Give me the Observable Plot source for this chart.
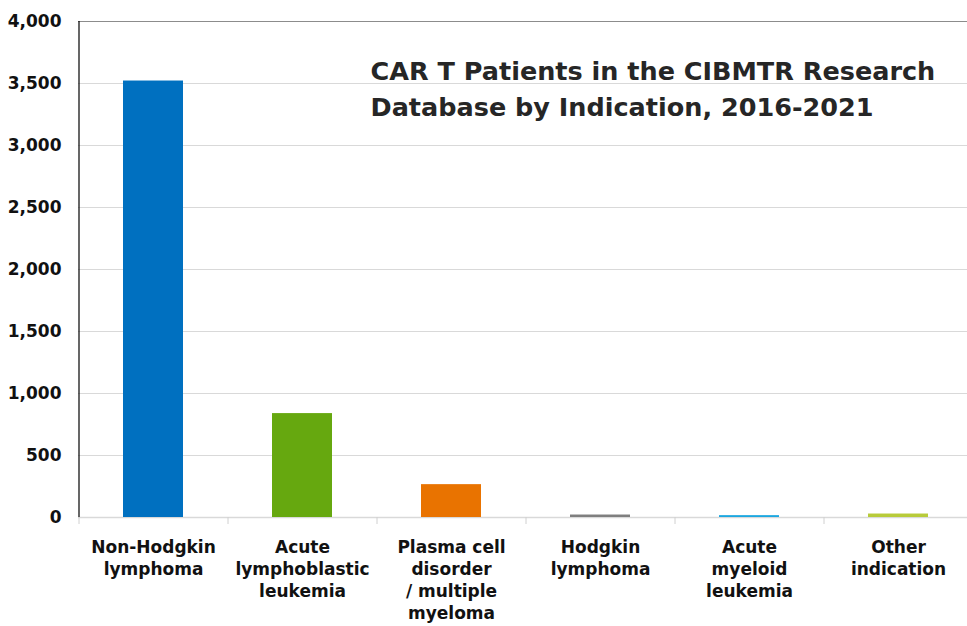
<!DOCTYPE html>
<html>
<head>
<meta charset="utf-8">
<script src="https://cdn.jsdelivr.net/npm/d3@7"></script>
<script src="https://cdn.jsdelivr.net/npm/@observablehq/plot@0.6"></script>
<style>
  html, body { margin: 0; padding: 0; background: #fff; }
  #chart svg { display: block; }
</style>
</head>
<body>
<div id="chart"></div>
<script>
const categories = ["Non-Hodgkin lymphoma", "Acute lymphoblastic leukemia", "Plasma cell disorder / multiple myeloma", "Hodgkin lymphoma", "Acute myeloid leukemia", "Other indication"];
const tickLabels = ["Non-Hodgkin\nlymphoma", "Acute\nlymphoblastic\nleukemia", "Plasma cell\ndisorder\n/ multiple\nmyeloma", "Hodgkin\nlymphoma", "Acute\nmyeloid\nleukemia", "Other\nindication"];
const patients = [3520, 838, 265, 20, 15, 28];
const colors = ["#0070C0", "#66A80F", "#E97300", "#7F7F7F", "#1CA7E0", "#B8CB3A"];
const yTicks = [0, 500, 1000, 1500, 2000, 2500, 3000, 3500, 4000];
const titleText = "CAR T Patients in the CIBMTR Research\nDatabase by Indication, 2016-2021";

const data = categories.map((c, i) => ({category: c, value: patients[i], color: colors[i]}));
const labelOf = new Map(categories.map((c, i) => [c, tickLabels[i]]));
const font = "'DejaVu Sans', sans-serif";

const step = (972 - 78) / categories.length;

const chart = Plot.plot({
  width: 967,
  height: 626,
  marginLeft: 78,
  marginRight: 0,
  marginTop: 21,
  marginBottom: 109,
  style: {fontFamily: font, background: "#fff", overflow: "visible"},
  x: {domain: categories, range: [78, 972], paddingInner: 0.6, paddingOuter: 0.3, align: 0.5, label: null},
  y: {domain: [0, 4000], label: null},
  marks: [
    Plot.gridY(yTicks.filter(d => d > 0 && d < 4000), {stroke: "#d9d9d9", strokeOpacity: 1}),
    Plot.ruleY([4000], {stroke: "#8c8c8c", strokeWidth: 1.2}),
    Plot.ruleY([0], {stroke: "#d9d9d9", strokeWidth: 1.5}),
    Plot.barY(data, {x: "category", y: "value", fill: "color"}),
    Plot.ruleX([categories[0]], {y1: 0, y2: 4000, dx: -step / 2, stroke: "#000", strokeWidth: 1.2}),
    Plot.axisX({tickSize: 7, tickFormat: () => "", stroke: "#d0d0d0", dx: -step / 2}),
    Plot.axisX({tickSize: 0, tickPadding: 20, tickFormat: d => labelOf.get(d), fontSize: 17, fontWeight: "bold", fill: "#111", lineHeight: 1.3}),
    Plot.axisY({ticks: yTicks, tickSize: 0, tickPadding: 17, tickFormat: d3.format(","), fontSize: 17, fontWeight: "bold", fill: "#111"}),
    Plot.text([titleText], {frameAnchor: "top-left", dx: 292, dy: 33, text: d => d, textAnchor: "start", lineAnchor: "top", fontSize: 25.5, fontWeight: "bold", fill: "#262626", lineHeight: 1.41})
  ]
});
document.getElementById("chart").appendChild(chart);
</script>
</body>
</html>
